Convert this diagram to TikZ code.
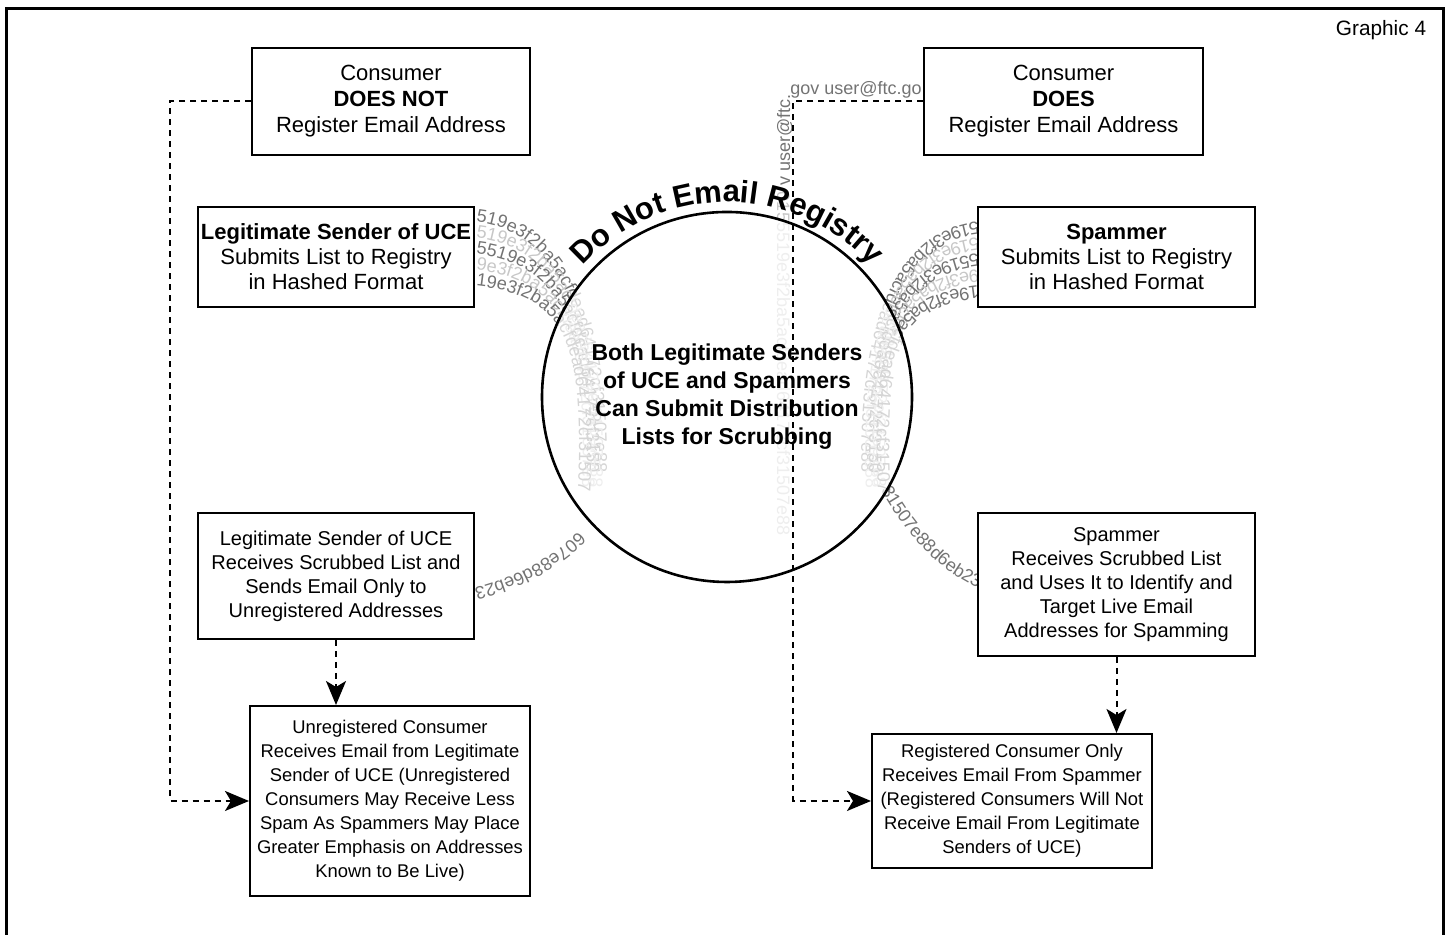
\documentclass[tikz,border=0pt]{standalone}
\usepackage{fontspec}
\setmainfont{Liberation Sans}
\usetikzlibrary{arrows.meta,decorations.text}

\newcommand{\hashfont}{\fontsize{9}{9}\selectfont}

\begin{document}
\begin{tikzpicture}[x=0.5pt,y=0.5pt,
  box/.style={draw,line width=1pt,fill=white,align=center,inner sep=0pt},
  topbox/.style={box,font=\fontsize{11}{13}\selectfont},
  midbox/.style={box,font=\fontsize{10}{12}\selectfont},
  lowbox/.style={box,font=\fontsize{9.2}{12}\selectfont},
  flow/.style={line width=1pt,dash pattern=on 3pt off 2.5pt,-{Stealth[length=12pt,width=10pt,inset=3pt]}},
  hash/.style 2 args={decorate,decoration={text along path,text={|\hashfont\color{#1}|#2}}},
  hashend/.style 2 args={decorate,decoration={text along path,text align=right,text={|\hashfont\color{#1}|#2}}}]
\useasboundingbox (0,0) rectangle (1448,935);
\draw[line width=1.5pt] (6,-10) -- (6,926) -- (1443,926) -- (1443,-10);
\node[font=\fontsize{10.4}{12}\selectfont] (tag) at (1381,905) {Graphic 4};

\foreach \k/\c/\t in {0/black!55/519e3f2ba5acfdead64172cf31507e88,
  1/black!22/519e3f2ba5acfdead64172cf31507e88,
  2/black!55/5519e3f2ba5acfdead64172cf3150,
  3/black!22/9e3f2ba5acfdead64172cf31507e88,
  4/black!55/19e3f2ba5acfdead64172cf31507} {
  \path[hash={\c}{\t}] (476,713-16*\k) .. controls (566,703-16*\k) and (600-4*\k,595) .. (594-4*\k,445);
  \path[hash={\c}{\t}] (978,713-16*\k) .. controls (888,703-16*\k) and (856+4*\k,595) .. (862+4*\k,445);
}
\path[hashend={black!55}{607e88d6eb23}] (600,430) .. controls (570,385) and (525,360) .. (474,347);
\path[hashend={black!55}{31507e88d6eb23}] (872,462) .. controls (900,405) and (935,367) .. (978,347);
\path[hash={black!22}{0155519e3f2ba5acfdead64172cf31507e88}] (777,743) -- (777,345);
\path[hash={black!55}{v user@ftc.gov user@ftc.go}] (790,749) -- (790,840) -- (922,840);

\node[circle,draw,line width=1.3pt,fill=white,fill opacity=0.7,text opacity=1,
  minimum size=185pt,inner sep=0pt,align=center,
  font=\fontsize{11.5}{14}\selectfont\bfseries] (reg) at (727,538)
  {Both Legitimate Senders\\of UCE and Spammers\\Can Submit Distribution\\Lists for Scrubbing};
\path[decorate,decoration={text along path,text align=center,
  text={|\fontsize{15.5}{15.5}\selectfont\bfseries|Do Not Email Registry}}]
  (reg.center) ++(152:195) arc[start angle=152,end angle=28,radius=195];

\node[topbox,minimum width=139pt,minimum height=53.5pt] (consno) at (391,833.5)
  {Consumer\\\textbf{DOES NOT}\\Register Email Address};
\node[topbox,minimum width=139.5pt,minimum height=53.5pt] (consyes) at (1063.5,833.5)
  {Consumer\\\textbf{DOES}\\Register Email Address};
\node[topbox,font=\fontsize{11}{12.5}\selectfont,minimum width=138pt,minimum height=50pt] (legitin) at (336,678)
  {\textbf{Legitimate Sender of UCE}\\Submits List to Registry\\in Hashed Format};
\node[topbox,font=\fontsize{11}{12.5}\selectfont,minimum width=138.5pt,minimum height=50pt] (spamin) at (1116.5,678)
  {\textbf{Spammer}\\Submits List to Registry\\in Hashed Format};
\node[midbox,minimum width=138pt,minimum height=63pt] (legitout) at (336,359)
  {Legitimate Sender of UCE\\Receives Scrubbed List and\\Sends Email Only to\\Unregistered Addresses};
\node[midbox,minimum width=138.5pt,minimum height=71.5pt] (spamout) at (1116.5,350.5)
  {Spammer\\Receives Scrubbed List\\and Uses It to Identify and\\Target Live Email\\Addresses for Spamming};
\node[lowbox,minimum width=140pt,minimum height=95pt] (unregrx) at (390,134)
  {Unregistered Consumer\\Receives Email from Legitimate\\Sender of UCE (Unregistered\\Consumers May Receive Less\\Spam As Spammers May Place\\Greater Emphasis on Addresses\\Known to Be Live)};
\node[lowbox,minimum width=140pt,minimum height=67pt] (regrx) at (1012,134)
  {Registered Consumer Only\\Receives Email From Spammer\\(Registered Consumers Will Not\\Receive Email From Legitimate\\Senders of UCE)};

\draw[flow] (consno.west) -| (170,600) |- (unregrx.west);
\draw[flow] (consyes.west) -| (793,600) |- (regrx.west);
\draw[flow] (legitout.south) -- (legitout.south |- unregrx.north);
\draw[flow] (spamout.south) -- (spamout.south |- regrx.north);
\end{tikzpicture}
\end{document}
